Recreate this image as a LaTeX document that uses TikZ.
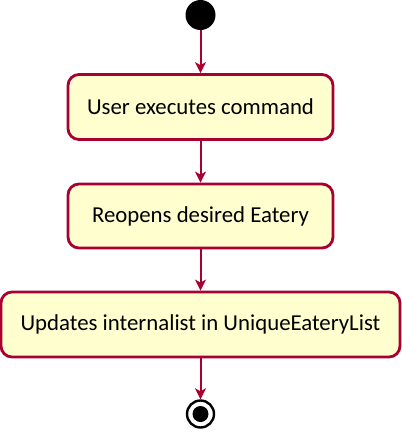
\documentclass[tikz,border=0pt]{standalone}
\usepackage{fontspec}
\setmainfont{Carlito}
\usetikzlibrary{arrows.meta}
\definecolor{umlred}{HTML}{A80030}
\definecolor{umlfill}{HTML}{FEFECE}
\begin{document}
\begin{tikzpicture}[x=1pt,y=-1pt,
  action/.style={draw=umlred, fill=umlfill, line width=2.8pt, rounded corners=11pt,
    font=\fontsize{22.8}{27}\selectfont, inner sep=0pt, anchor=center},
  flow/.style={draw=umlred, line width=2pt,
    -{Stealth[length=11pt,width=11pt,inset=3pt]}}]
\useasboundingbox (0,0) rectangle (402,432);
% initial and final states
\node[circle, fill=black, minimum size=30pt, inner sep=0pt] (start) at (200.5,15) {};
\node[circle, draw=black, line width=2.4pt, fill=white, minimum size=27pt, inner sep=0pt] (stop) at (200.5,414) {};
\node[circle, fill=black, minimum size=16pt, inner sep=0pt] at (stop.center) {};
% activities
\node[action, minimum width=265pt, minimum height=65pt] (a1) at (200.5,107) {User executes command};
\node[action, minimum width=265pt, minimum height=64pt] (a2) at (200.5,216) {Reopens desired Eatery};
\node[action, minimum width=399pt, minimum height=65pt] (a3) at (200.5,324.5) {Updates internalist in UniqueEateryList};
% transitions
\draw[flow] (start) -- (a1);
\draw[flow] (a1) -- (a2);
\draw[flow] (a2) -- (a3);
\draw[flow] (a3) -- (stop);
\end{tikzpicture}
\end{document}
